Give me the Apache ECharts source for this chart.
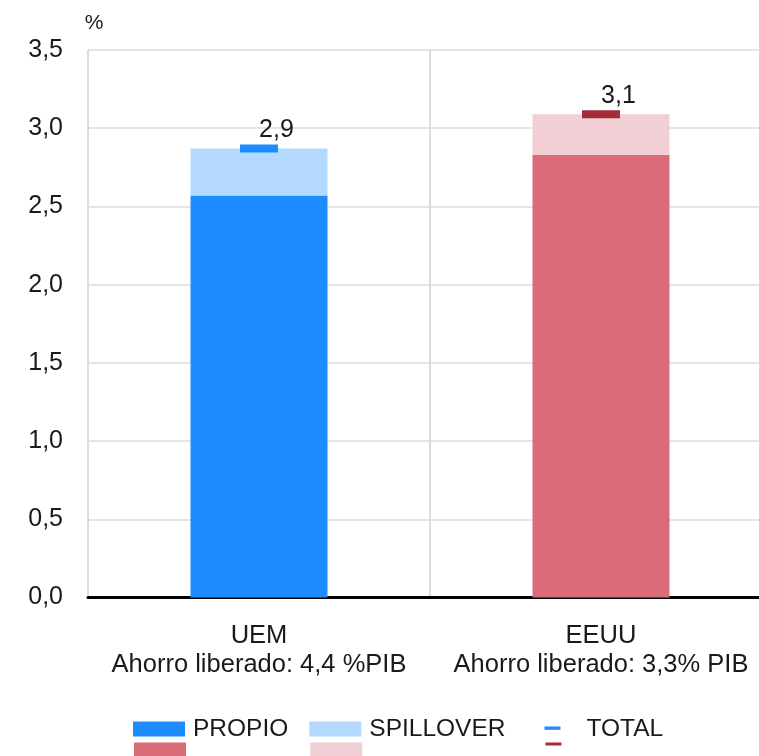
<!DOCTYPE html>
<html>
<head>
<meta charset="utf-8">
<script src="https://cdn.jsdelivr.net/npm/echarts@6/dist/echarts.min.js"></script>
<style>html,body{margin:0;padding:0;background:#fff;}#c{width:759px;height:756px;}</style>
</head>
<body>
<div id="c"></div>
<script>
var categories = ['UEM', 'EEUU'];
var subtitles = ['Ahorro liberado: 4,4 %PIB', 'Ahorro liberado: 3,3% PIB'];
var propioUEM = [2.57, '-'];
var spilloverUEM = [0.30, '-'];
var totalUEM = [2.87, '-'];
var propioEEUU = ['-', 2.83];
var spilloverEEUU = ['-', 0.26];
var totalEEUU = ['-', 3.09];
var yTicks = { min: 0, max: 3.5, interval: 0.5 };

var FONT = 'Liberation Sans';
var fmt = function (v) { return Number(v).toFixed(1).replace('.', ','); };
var iconTotal1 = 'path://M0,0M52,15M18,5h16v3.3h-16z';
var iconTotal2 = 'path://M0,0M52,15M18,0h16v3h-16z';

var chart = echarts.init(document.getElementById('c'), null, { renderer: 'canvas' });
var totalLabel = {
  show: true, position: 'top', distance: 2, offset: [17.5, 0],
  formatter: function (p) { return fmt(p.value); },
  fontSize: 25, color: '#1a1a1a', fontFamily: FONT
};
chart.setOption({
  animation: false,
  textStyle: { fontFamily: FONT },
  grid: { left: 88, width: 684, top: 50, bottom: 158.5, outerBoundsMode: 'none', containLabel: false },
  legend: [{
    left: 128, top: 711.5, itemWidth: 52, itemHeight: 15, itemGap: 21,
    icon: 'rect',
    textStyle: { fontSize: 24.5, color: '#1a1a1a', padding: [0, 0, 0, 3] },
    data: ['PROPIO', 'SPILLOVER', { name: 'TOTAL', icon: iconTotal1 }]
  }, {
    left: 129, top: 732.5, itemWidth: 52, itemHeight: 15, itemGap: 21,
    icon: 'rect',
    textStyle: { fontSize: 24.5, color: 'rgba(0,0,0,0)', padding: [0, 0, 0, 3] },
    formatter: function (n) { return n.replace('\u200b', ''); },
    data: ['PROPIO\u200b', 'SPILLOVER\u200b', { name: 'TOTAL\u200b', icon: iconTotal2 }]
  }],
  xAxis: {
    type: 'category',
    data: categories,
    axisLine: { lineStyle: { color: '#000', width: 3 } },
    axisTick: { show: false },
    splitLine: { show: true, interval: 0, lineStyle: { color: '#dcdcdc', width: 2 } },
    axisLabel: {
      interval: 0, margin: 24, fontSize: 25.5, lineHeight: 29, color: '#1a1a1a',
      formatter: function (v, i) { return v + '\n' + subtitles[i]; }
    }
  },
  yAxis: {
    type: 'value', min: yTicks.min, max: yTicks.max, interval: yTicks.interval,
    name: '%', nameLocation: 'end', nameGap: 16,
    nameTextStyle: { fontSize: 21, color: '#1a1a1a', align: 'center', padding: [0, 0, 0, 12] },
    axisLine: { show: false }, axisTick: { show: false },
    axisLabel: { margin: 25, fontSize: 25, color: '#1a1a1a', formatter: function (v) { return fmt(v); } },
    splitLine: { lineStyle: { color: '#dcdcdc', width: 1.5 } }
  },
  series: [
    { name: 'PROPIO', type: 'bar', stack: 'a', barWidth: 137, data: propioUEM, itemStyle: { color: '#1E8CFF' } },
    { name: 'PROPIO\u200b', type: 'bar', stack: 'a', barWidth: 137, data: propioEEUU, itemStyle: { color: '#DA6B78' } },
    { name: 'SPILLOVER', type: 'bar', stack: 'a', barWidth: 137, data: spilloverUEM, itemStyle: { color: '#B3D9FF' } },
    { name: 'SPILLOVER\u200b', type: 'bar', stack: 'a', barWidth: 137, data: spilloverEEUU, itemStyle: { color: '#F2CFD4' } },
    { name: 'TOTAL', type: 'scatter', symbol: 'rect', symbolSize: [38, 8], data: totalUEM, itemStyle: { color: '#1E8CFF', opacity: 1 }, label: totalLabel, z: 5 },
    { name: 'TOTAL\u200b', type: 'scatter', symbol: 'rect', symbolSize: [38, 8], data: totalEEUU, itemStyle: { color: '#A52A3A', opacity: 1 }, label: totalLabel, z: 5 }
  ]
});
</script>
</body>
</html>
